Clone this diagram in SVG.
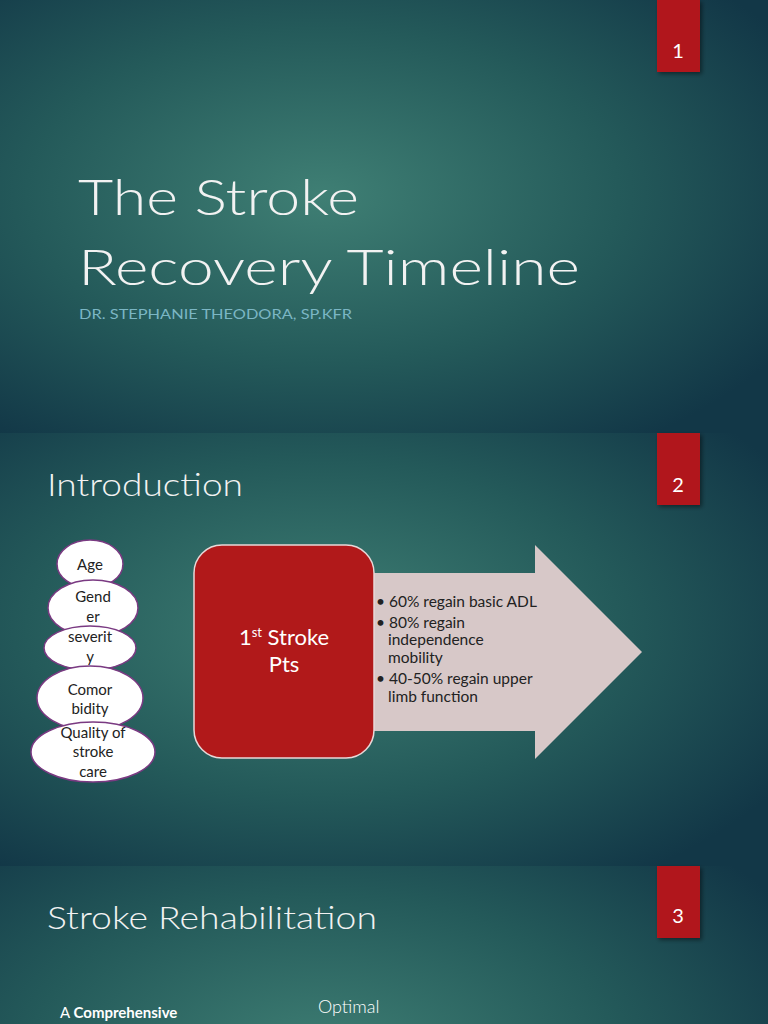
<svg xmlns="http://www.w3.org/2000/svg" width="768" height="1024" viewBox="0 0 768 1024">
<defs>
<radialGradient id="bg" cx="0.42" cy="0.45" r="0.7">
<stop offset="0" stop-color="#3f7f74"/>
<stop offset="0.55" stop-color="#245a5a"/>
<stop offset="1" stop-color="#123747"/>
</radialGradient>
<filter id="sh" x="-20%" y="-20%" width="150%" height="150%"><feDropShadow dx="2" dy="2" stdDeviation="2" flood-opacity="0.45"/></filter>
</defs>
<style>
text{font-family:"Century Gothic","Lato","Liberation Sans",sans-serif;fill:#fff}
.title{font-size:50px;fill:#f2f2f2;font-weight:300}
.h{font-size:32px;fill:#f2f2f2;font-weight:300}
.num{font-size:20px;text-anchor:middle}
.tag{fill:#b1191a}
.ov{fill:#fff;stroke:#7a3a82;stroke-width:1.5}
.ot{font-size:15px;fill:#222;text-anchor:middle}
.bt{font-size:15.5px;fill:#222}
</style>
<rect x="0" y="0" width="768" height="433" fill="url(#bg)"/>
<rect x="0" y="433" width="768" height="433" fill="url(#bg)"/>
<rect x="0" y="866" width="768" height="433" fill="url(#bg)"/>

<g id="slide1">
<rect class="tag" x="657" y="0" width="43" height="72" filter="url(#sh)"/>
<text class="num" x="678" y="58">1</text>
<text class="title" x="78" y="215" textLength="281" lengthAdjust="spacingAndGlyphs">The Stroke</text>
<text class="title" x="78" y="285" textLength="502" lengthAdjust="spacingAndGlyphs">Recovery Timeline</text>
<text x="79" y="319" font-size="14" style="fill:#7bb6c4" textLength="273" lengthAdjust="spacingAndGlyphs">DR. STEPHANIE THEODORA, SP.KFR</text>
</g>

<g id="slide2">
<rect class="tag" x="657" y="433" width="43" height="72" filter="url(#sh)"/>
<text class="num" x="678" y="492">2</text>
<text class="h" x="47" y="496" textLength="196" lengthAdjust="spacingAndGlyphs">Introduction</text>
</g>
<g id="connectors">
<polygon points="370,573 535,573 535,545 642,652 535,759 535,731 370,731" fill="#d7c8c8"/>
</g>
<g id="box"><rect x="194" y="545" width="180" height="213" rx="28" fill="#b1191a" stroke="#e8d8d8" stroke-width="1.5"/>
<text x="284" y="645" font-size="22" text-anchor="middle">1<tspan font-size="13" dy="-8">st</tspan><tspan dy="8"> Stroke</tspan></text>
<text x="284" y="672" font-size="22" text-anchor="middle">Pts</text></g>
<g id="bullets">
<text class="bt" x="376" y="607">• 60% regain basic ADL</text>
<text class="bt" x="376" y="628">• 80% regain</text>
<text class="bt" x="388" y="645">independence</text>
<text class="bt" x="388" y="663">mobility</text>
<text class="bt" x="376" y="684">• 40-50% regain upper</text>
<text class="bt" x="388" y="702">limb function</text>
</g>
<g id="age"><ellipse class="ov" cx="90" cy="564" rx="33" ry="24"/><text class="ot" x="90" y="570">Age</text></g>
<g id="gender"><ellipse class="ov" cx="93" cy="608" rx="45" ry="28"/><text class="ot" x="93" y="602">Gend</text><text class="ot" x="93" y="622">er</text></g>
<g id="severity"><ellipse class="ov" cx="90" cy="648" rx="46" ry="22"/><text class="ot" x="90" y="642">severit</text><text class="ot" x="90" y="662">y</text></g>
<g id="comorbidity"><ellipse class="ov" cx="90" cy="698" rx="53" ry="32"/><text class="ot" x="90" y="695">Comor</text><text class="ot" x="90" y="714">bidity</text></g>
<g id="quality"><ellipse class="ov" cx="93" cy="752" rx="62" ry="30"/><text class="ot" x="93" y="738">Quality of</text><text class="ot" x="93" y="757">stroke</text><text class="ot" x="93" y="777">care</text></g>

<g id="slide3">
<rect class="tag" x="657" y="866" width="43" height="72" filter="url(#sh)"/>
<text class="num" x="678" y="923">3</text>
<text class="h" x="47" y="929" textLength="330" lengthAdjust="spacingAndGlyphs">Stroke Rehabilitation</text>
<text x="60" y="1018" font-size="15">A <tspan font-weight="bold">Comprehensive</tspan></text>
<text x="318" y="1013" font-size="18" fill="#ddd" font-weight="300">Optimal</text>
</g>
</svg>
